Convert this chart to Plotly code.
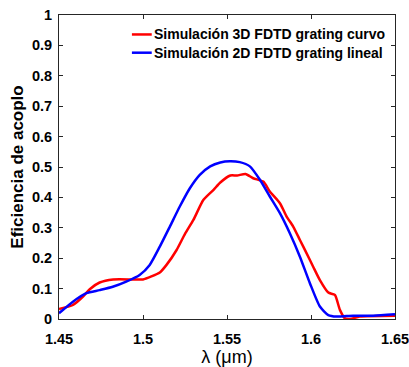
import plotly.graph_objects as go

# Coupling efficiency vs wavelength (um)
wl_3d = [1.450, 1.4583, 1.4643, 1.4683, 1.4742, 1.4822, 1.494, 1.500, 1.505, 1.510,
         1.514, 1.520, 1.525, 1.530, 1.536, 1.542, 1.546, 1.552, 1.556, 1.561,
         1.5656, 1.5716, 1.5755, 1.5815, 1.5855, 1.5894, 1.5934, 1.5974, 1.6013,
         1.6053, 1.6103, 1.6142, 1.6172, 1.6202, 1.6232, 1.629, 1.650]
eff_3d = [0.033, 0.046, 0.074, 0.098, 0.120, 0.130, 0.130, 0.130, 0.140, 0.153,
          0.178, 0.227, 0.280, 0.326, 0.392, 0.425, 0.449, 0.472, 0.472, 0.477,
          0.463, 0.452, 0.419, 0.381, 0.337, 0.304, 0.260, 0.216, 0.172,
          0.128, 0.087, 0.079, 0.030, 0.002, 0.000, 0.008, 0.011]

wl_2d = [1.450, 1.4583, 1.4663, 1.4742, 1.482, 1.490, 1.498, 1.504, 1.510, 1.516,
         1.5219, 1.5279, 1.5338, 1.540, 1.546, 1.5517, 1.5576, 1.5636, 1.5696,
         1.5755, 1.5815, 1.5874, 1.5934, 1.5994, 1.6053, 1.6103, 1.6152, 1.625,
         1.637, 1.650]
eff_2d = [0.019, 0.057, 0.085, 0.095, 0.106, 0.123, 0.145, 0.178, 0.238, 0.304,
          0.370, 0.430, 0.474, 0.502, 0.515, 0.519, 0.516, 0.502, 0.458,
          0.403, 0.348, 0.282, 0.205, 0.117, 0.041, 0.013, 0.008, 0.011,
          0.011, 0.016]

series_names = ["Simulación 3D FDTD grating curvo", "Simulación 2D FDTD grating lineal"]
series_colors = ["#ff0000", "#0000ff"]

x_ticks = [1.45, 1.5, 1.55, 1.6, 1.65]
x_tick_text = ["1.45", "1.5", "1.55", "1.6", "1.65"]
y_ticks = [0, 0.1, 0.2, 0.3, 0.4, 0.5, 0.6, 0.7, 0.8, 0.9, 1]
y_tick_text = ["0", "0.1", "0.2", "0.3", "0.4", "0.5", "0.6", "0.7", "0.8", "0.9", "1"]

FONT = "Liberation Sans, Arial"

fig = go.Figure()
for wl, eff, name, color in [(wl_3d, eff_3d, series_names[0], series_colors[0]),
                             (wl_2d, eff_2d, series_names[1], series_colors[1])]:
    fig.add_trace(go.Scatter(x=wl, y=eff, mode="lines", name=name,
                             line=dict(color=color, width=2.5, shape="spline", smoothing=0.6)))

axis_common = dict(showgrid=False, zeroline=False, showline=True, linecolor="#262626",
                   linewidth=1, mirror="ticks", ticks="inside", ticklen=4,
                   tickcolor="#262626", ticklabeloverflow="allow",
                   tickfont=dict(family=FONT, size=14.5, color="#000000", weight="bold"))

# Legend drawn as short line samples with labels in the upper part of the axes
legend_rows_y = [0.936, 0.876]
shapes = []
annotations = []
for ry, name, color in zip(legend_rows_y, series_names, series_colors):
    shapes.append(dict(type="line", xref="paper", yref="paper", x0=0.217, x1=0.276,
                       y0=ry, y1=ry, line=dict(color=color, width=2.5)))
    annotations.append(dict(xref="paper", yref="paper", x=0.278, y=ry, xanchor="left",
                            yanchor="middle", showarrow=False, text=name,
                            font=dict(family=FONT, size=14, color="#000000", weight="bold")))

fig.update_layout(
    width=409, height=367,
    margin=dict(l=59, r=14, t=15, b=48),
    paper_bgcolor="white", plot_bgcolor="white",
    font=dict(family=FONT, color="#000000"),
    xaxis=dict(range=[1.45, 1.65], tickvals=x_ticks, ticktext=x_tick_text,
               ticklabelstandoff=7, automargin=False,
               title=dict(text="λ (μm)", font=dict(size=18), standoff=2),
               **axis_common),
    yaxis=dict(range=[0, 1], tickvals=y_ticks, ticktext=y_tick_text, automargin=False,
               ticklabelstandoff=3,
               title=dict(text="Eficiencia de acoplo", font=dict(size=17, weight="bold"),
                          standoff=3),
               **axis_common),
    shapes=shapes,
    annotations=annotations,
    showlegend=False,
)

fig.write_html("out.html")
